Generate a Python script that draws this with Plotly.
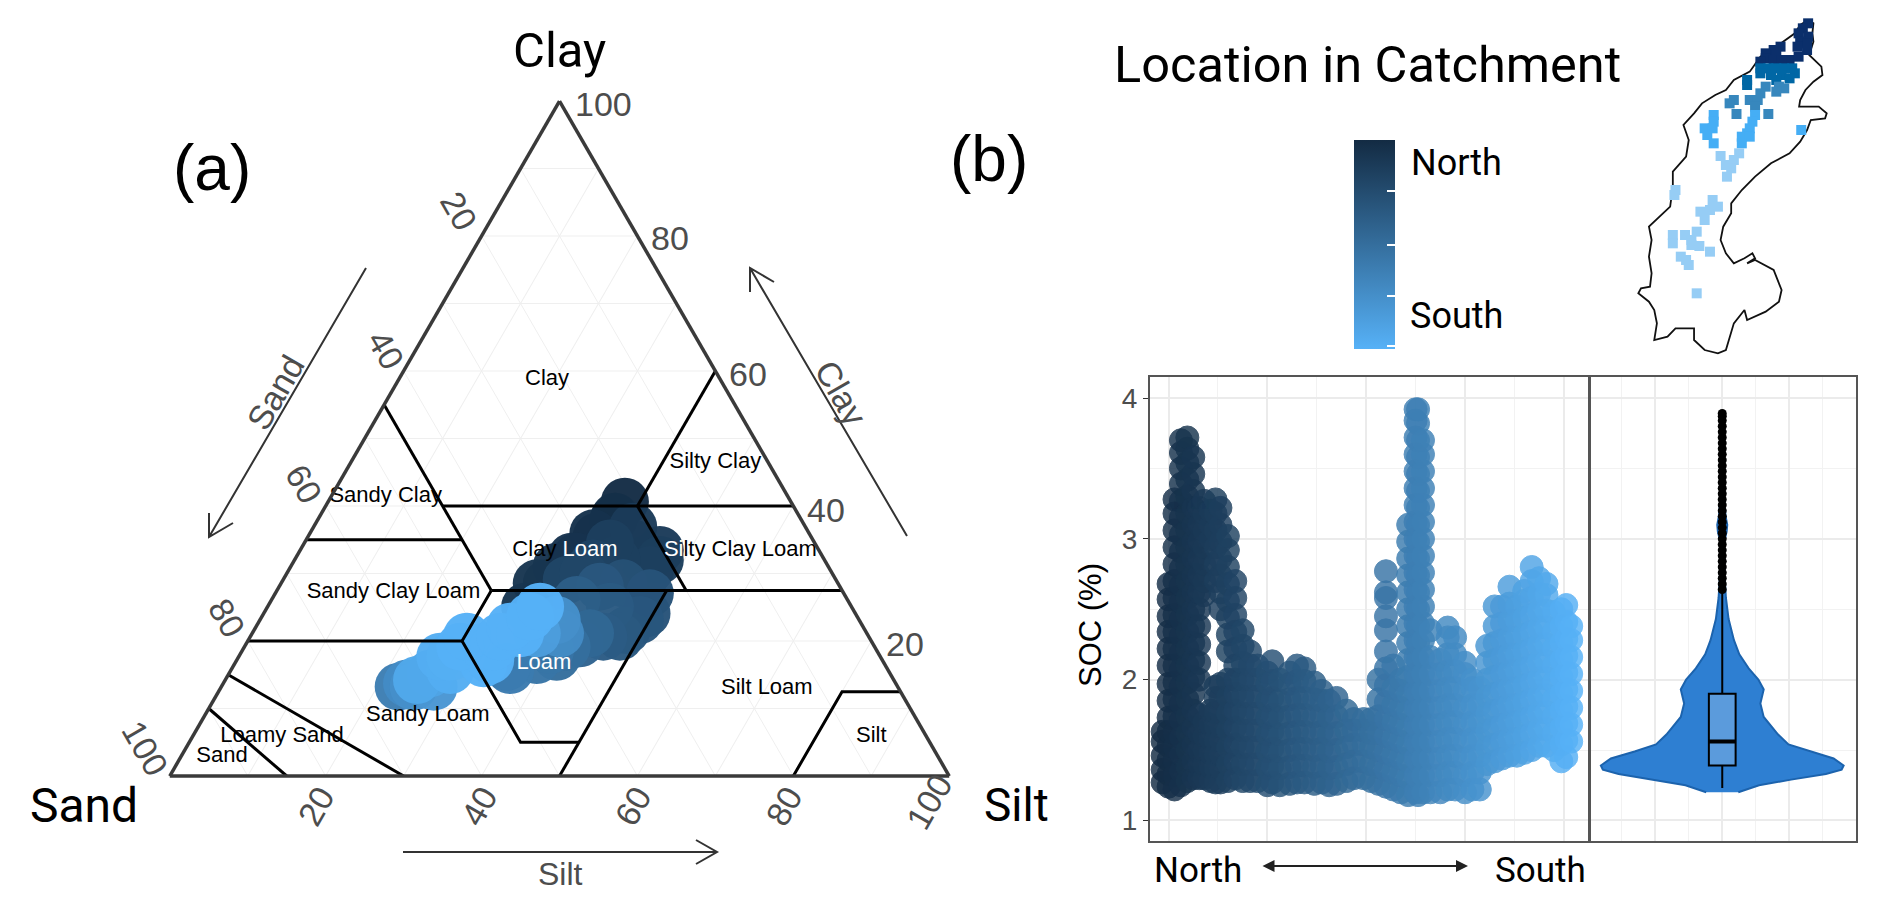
import plotly.graph_objects as go

W, H = 1892, 914
M = 8  # the page keeps an 8 px body margin
FW, FH = W - 2*M, H - 2*M
def X(p): return (p - M) / FW
def Y(p): return 1 - (p - M) / FH

DARK, LIGHT = "#132B43", "#56B1F7"
GREY = "#4d4d4d"

# ---------- Panel (a): soil texture triangle ----------
blob_clay = [40.64,37.92,35.45,32.49,31.01,28.54,34.46,33.48,30.51,32.0,30.02,24.09,21.62,25.08,28.54,28.05,26.07,21.13,19.16,18.66,15.7,21.13,21.13,25.08,23.6,22.12,19.16,16.69,20.64,19.16,17.67,15.2,13.72,13.23,
             38.42,35.95,32.49,28.54,25.08,36.93,32,32,29.03,34.46,31.5,29.03,27.06,23.11,20.64,20.64,19.65,17.67,17.18,16.19,23.11,21.13,20.64,19.16,17.18,17.67,15.7,14.22,13.23,13.23]
blob_silt = [38.07,37.94,37.03,35.96,34.13,32.81,42.23,46.13,46.33,41.32,38.05,49.12,47.79,43.93,43.91,41.16,39.17,43.35,41.34,39.46,35.82,39.5,36.52,34.97,34.43,32.61,31.95,31.91,27.8,27.68,25.87,25.82,23.58,22.75,
             37.9,36.37,35.31,34.09,33.05,40.99,44.74,46.87,46.23,39.24,38.59,36.41,48.06,48.75,47.43,45.3,42.8,40.8,38.49,35.14,38.08,34.38,32.07,30.67,32.52,27.15,28.13,24.61,27.24,24.68]
blob_location = [.01,.02,.05,.06,.07,.08,.10,.12,.15,.15,.2,.3,.32,.35,.28,.33,.38,.45,.5,.55,.6,.72,.85,1,1,1,1,1,1,1,.97,.9,.72,.62,
                 .03,.05,.06,.07,.08,.12,.12,.14,.14,.15,.18,.2,.3,.32,.34,.36,.42,.5,.55,.6,.75,1,1,1,1,.98,.97,.93,.8,.75]

boundaries = [  # each line: clay values, silt values
    ([55,27.5],[0,27.5]), ([40,40],[15,60]), ([35,35],[0,20]), ([40,60],[40,40]),
    ([40,27.5],[40,52.5]), ([27.5,27.5],[27.5,72.5]), ([20,20],[0,27.5]),
    ([27.5,20,5,5],[27.5,27.5,42.5,50]), ([27.5,0],[50,50]),
    ([0,12.5,12.5],[80,80,87.5]), ([15,0],[0,30]), ([10,0],[0,15]),
]
class_names = ["Clay","Silty Clay","Sandy Clay","Clay <span style='color:white'>Loam</span>",
               "<span style='color:white'>Si</span>lty Clay Loam","Sandy Clay Loam",
               "<span style='color:white'>Loam</span>","Silt Loam","Sandy Loam","Silt","Loamy Sand","Sand"]
class_clay = [58.8,46.4,41.4,33.4,33.4,27.2,16.6,13,9,5.8,5.8,2.9]
class_silt = [19,46.8,7,34,56.5,15.1,39.7,70.1,28.6,87.1,11.5,5.25]

clay_ticks = ["100","80","60","40","20"]
sand_ticks = ["20","40","60","80","100"]
silt_ticks = ["20","40","60","80","100"]

# ---------- Panel (b): SOC along the catchment ----------
location_steps = [-0.12,0.0,0.12,0.25,0.38,0.5,0.62,0.72,0.85,0.95,1.05,1.2,1.35,1.5,1.65,1.8,2.0,2.1,2.25,2.45,2.6,2.75,2.95,3.1,3.25,3.4,3.6,3.75,3.95,4.1,4.25,4.4,4.55,4.7,4.85,5.0,5.05,5.15,5.3,5.5,5.65,5.8,6.0,6.15,6.3,6.45,6.6,6.75,6.9,7.05,7.2,7.35,7.5,7.65,7.8,7.95,8.05,8.15]
soc_by_location = [
 [1.27,1.36,1.46,1.56,1.63],
 [1.24,1.33,1.43,1.53,1.63,1.73,1.85,1.97,2.1,2.22,2.34,2.45,2.57,2.68],
 [1.22,1.32,1.42,1.52,1.62,1.74,1.86,1.98,2.1,2.22,2.34,2.46,2.58,2.7,2.82,2.94,3.06,3.18,3.28],
 [1.25,1.35,1.47,1.59,1.71,1.83,1.95,2.07,2.19,2.31,2.43,2.55,2.67,2.79,2.91,3.03,3.15,3.27,3.39,3.5,3.61,3.7],
 [1.28,1.38,1.5,1.62,1.74,1.86,1.98,2.1,2.22,2.34,2.46,2.58,2.7,2.82,2.94,3.06,3.18,3.3,3.42,3.54,3.64,3.72],
 [1.3,1.42,1.54,1.66,1.78,1.9,2.02,2.14,2.26,2.38,2.5,2.62,2.74,2.86,2.98,3.1,3.22,3.34,3.46,3.58],
 [1.3,1.4,1.5,1.62,1.75,2.0,2.12,2.25,2.38,2.5,2.62,2.74,2.86,2.98,3.1,3.22],
 [1.3,1.4,1.5,1.6,1.7,2.6,2.7,2.82,2.94,3.06,3.18,3.27],
 [1.28,1.38,1.48,1.58,1.68,1.78,3.0,3.1,3.2],
 [1.27,1.37,1.47,1.57,1.67,1.77,1.87,1.95,2.7,2.82,2.94,3.06,3.18,3.28],
 [1.27,1.37,1.47,1.57,1.67,1.77,1.87,1.97,2.5,2.62,2.74,2.86,2.98,3.1,3.22],
 [1.28,1.4,1.52,1.64,1.76,1.88,2.0,2.2,2.32,2.44,2.56,2.68,2.8,2.92,3.02],
 [1.3,1.42,1.54,1.66,1.78,1.9,2.0,2.1,2.22,2.34,2.46,2.58,2.7],
 [1.28,1.4,1.52,1.64,1.76,1.88,2.0,2.12,2.24,2.35],
 [1.28,1.4,1.52,1.64,1.76,1.88,2.0,2.1,2.2],
 [1.28,1.4,1.52,1.64,1.76,1.88,2.0,2.1],
 [1.25,1.37,1.49,1.61,1.73,1.85,1.97,2.05],
 [1.27,1.39,1.51,1.63,1.75,1.87,1.99,2.13],
 [1.25,1.37,1.49,1.61,1.73,1.85,2.0],
 [1.26,1.38,1.5,1.62,1.74,1.86,1.97,2.05],
 [1.27,1.39,1.51,1.63,1.75,1.87,1.99,2.1],
 [1.27,1.39,1.51,1.63,1.75,1.87,1.99,2.08],
 [1.26,1.38,1.5,1.62,1.74,1.86,1.98],
 [1.27,1.39,1.51,1.63,1.75,1.85,1.92],
 [1.25,1.37,1.49,1.61,1.73,1.85],
 [1.26,1.38,1.5,1.62,1.74,1.87],
 [1.28,1.4,1.52,1.64,1.78],
 [1.3,1.42,1.54,1.64,1.72],
 [1.3,1.42,1.54,1.64,1.72],
 [1.28,1.4,1.52,1.62,1.72],
 [1.26,1.38,1.5,1.62,1.74,1.86,2.0],
 [1.24,1.36,1.48,1.6,1.72,1.84,1.96,2.08,2.2,2.35,2.45,2.58,2.62,2.77],
 [1.22,1.34,1.46,1.58,1.7,1.82,1.94,2.1],
 [1.2,1.32,1.44,1.56,1.68,1.8,1.92,2.0],
 [1.18,1.3,1.42,1.54,1.66,1.78,1.9,2.02,2.14,2.26,2.38,2.5,2.62,2.74,2.86,2.98,3.1],
 [1.2,1.32,1.44,1.56,1.68,1.8,1.92,2.04,2.16,2.28,2.4,2.52,2.64,2.76,2.88,3.0,3.12,3.24,3.36,3.48,3.6,3.72,3.84,3.92],
 [1.18,1.3,1.42,1.54,1.66,1.78,1.9,2.02,2.14,2.26,2.38,2.5,2.62,2.74,2.86,2.98,3.1,3.22,3.34,3.46,3.58,3.7,3.82,3.92],
 [1.2,1.32,1.44,1.56,1.68,1.8,1.92,2.04,2.16,2.28,2.4,2.52,2.64,2.76,2.88,3.0,3.12,3.24,3.36,3.48,3.6,3.7],
 [1.2,1.32,1.44,1.56,1.68,1.8,1.92,2.04,2.16,2.35],
 [1.2,1.32,1.44,1.56,1.68,1.8,1.92,2.04,2.14],
 [1.22,1.34,1.46,1.58,1.7,1.82,1.94,2.06,2.18,2.3,2.37],
 [1.22,1.34,1.46,1.58,1.7,1.82,1.94,2.06,2.18,2.3],
 [1.2,1.32,1.44,1.56,1.68,1.8,1.92,2.04,2.12],
 [1.22,1.34,1.46,1.58,1.7,1.82,1.94,2.0],
 [1.22,1.34,1.46,1.58,1.7,1.82,1.94],
 [1.4,1.52,1.64,1.76,1.88,2.0,2.12,2.24],
 [1.42,1.54,1.66,1.78,1.9,2.02,2.14,2.26,2.38,2.52],
 [1.44,1.56,1.68,1.8,1.92,2.04,2.16,2.28,2.4,2.52],
 [1.46,1.58,1.7,1.82,1.94,2.06,2.18,2.3,2.42,2.54,2.66],
 [1.46,1.58,1.7,1.82,1.94,2.06,2.18,2.3,2.42,2.52],
 [1.48,1.6,1.72,1.84,1.96,2.08,2.2,2.32,2.44,2.56,2.63],
 [1.5,1.62,1.74,1.86,1.98,2.1,2.22,2.34,2.46,2.58,2.7,2.8],
 [1.53,1.65,1.77,1.89,2.01,2.13,2.25,2.37,2.49,2.61,2.72],
 [1.53,1.65,1.77,1.89,2.01,2.13,2.25,2.37,2.49,2.6,2.68],
 [1.5,1.62,1.74,1.86,1.98,2.1,2.22,2.34,2.48],
 [1.42,1.54,1.66,1.78,1.9,2.02,2.14,2.26,2.38,2.5],
 [1.45,1.57,1.69,1.81,1.93,2.05,2.17,2.29,2.41,2.53],
 [1.56,1.68,1.8,1.92,2.04,2.16,2.28,2.38],
]

violin_soc =   [1.2,1.25,1.29,1.33,1.36,1.39,1.44,1.49,1.54,1.61,1.735,1.83,1.93,2.0,2.08,2.18,2.28,2.43,2.58,2.73,2.97,3.05,3.1,3.16,3.3,3.55,3.89]
violin_half =  [.48,1.1,2.06,3.1,3.57,3.63,3.33,2.62,1.98,1.67,1.24,1.14,1.24,1.08,.79,.51,.35,.19,.11,.07,.05,.13,.15,.1,.05,.03,.02]
outlier_soc = [2.64,2.68,2.72,2.76,2.8,2.84,2.88,2.92,2.96,3.0,3.04,3.08,3.12,3.16,3.2,3.24,3.28,3.32,3.36,3.4,3.44,3.48,3.52,3.56,3.6,3.64,3.68,3.72,3.76,3.8,3.84,3.87,3.89]
box_q1, box_median, box_q3, box_low, box_high = 1.39, 1.56, 1.90, 1.23, 2.63

# ---------- Map inset (values read in inset map units) ----------
outline_e = [1410,1420,1418,1420,1412,1435,1437,1420,1405,1395,1393,1430,1445,1442,1415,1408,1395,1375,1340,1310,1285,1265,1265,1250,1245,1255,1270,1290,1305,1310,1295,1310,1345,1350,1360,1355,1330,1295,1290,1270,1255,1240,1215,1195,1195,1160,1145,1120,1125,1120,1110,1090,1095,1112,1115,1110,1115,1110,1130,1150,1155,1155,1180,1185,1175,1195,1210,1235,1255,1270,1300,1320,1350,1385,1395,1410]
outline_n = [60,70,100,125,165,200,225,245,270,300,320,320,340,355,360,390,425,460,490,530,570,610,640,680,720,760,790,775,760,775,790,780,810,830,870,905,935,960,930,970,1050,1060,1050,1020,985,985,1010,1020,970,930,905,880,865,860,820,770,720,680,650,620,560,515,470,420,375,340,310,285,270,240,215,170,140,100,75,60]
map_groups = {
 "#0b2f6b": ([1410,1400,1392,1410,1395,1408,1390,1408,1358,1345,1330,1350,1330,1320,1345,1375,1392,1360],
             [70,85,100,110,125,130,140,150,140,150,160,165,175,185,180,180,170,180]),
 "#0067a5": ([1320,1335,1350,1365,1380,1385,1320,1340,1360,1375,1295,1295,1350],
             [205,205,205,205,205,220,220,225,225,235,240,255,240]),
 "#3787bd": ([1330,1320,1355,1365,1350,1300,1315,1310,1270,1262,1275,1335],
             [260,280,260,265,275,300,300,320,300,310,342,342]),
 "#45aef5": ([1310,1305,1300,1295,1285,1300,1285,1232,1232,1215,1230,1220,1232,1397],
             [345,365,385,400,410,410,430,345,365,385,385,405,430,390]),
 "#96cdf5": ([1245,1280,1270,1255,1265,1257,1160,1158,1230,1240,1225,1207,1215,1200,1155,1155,1178,1190,1190,1205,1225,1170,1180,1185,1200],
             [468,460,480,495,505,530,570,585,600,620,630,635,660,695,705,730,705,720,735,738,755,770,780,795,880]),
}
legend_ticks = [0.013,0.255,0.5,0.754]

fig = go.Figure()

# --- ternary marks, southern locations drawn last
blob = sorted(zip(blob_location, blob_clay, blob_silt))
b_loc = [p[0] for p in blob]
b_clay = [p[1] for p in blob]
b_silt = [p[2] for p in blob]
fig.add_trace(go.Scatterternary(
    a=b_clay, c=b_silt, b=[100-p-q for p,q in zip(b_clay,b_silt)], mode="markers",
    marker=dict(size=48, color=b_loc, cmin=0, cmax=1,
                colorscale=[[0,DARK],[1,LIGHT]], opacity=0.97, line=dict(width=0)),
    showlegend=False, hoverinfo="skip"))
for cl, si in boundaries:
    fig.add_trace(go.Scatterternary(a=cl, c=si, b=[100-p-q for p,q in zip(cl,si)], mode="lines",
        line=dict(color="black", width=3), showlegend=False, hoverinfo="skip"))
fig.add_trace(go.Scatterternary(
    a=class_clay, c=class_silt, b=[100-p-q for p,q in zip(class_clay,class_silt)], mode="text",
    text=class_names, textposition="middle center",
    textfont=dict(family="Liberation Sans", size=22, color="black"),
    showlegend=False, hoverinfo="skip", cliponaxis=False))

# --- SOC scatter
soc_x = [x for x, ys in zip(location_steps, soc_by_location) for _ in ys]
soc_y = [y for ys in soc_by_location for y in ys]
fig.add_trace(go.Scatter(
    x=soc_x, y=soc_y, mode="markers", xaxis="x", yaxis="y",
    marker=dict(size=23, color=soc_x, cmin=-0.15, cmax=8.15, colorscale=[[0,DARK],[1,LIGHT]],
                opacity=0.82, line=dict(width=1, color=soc_x, cmin=-0.15, cmax=8.15,
                                        colorscale=[[0,DARK],[1,LIGHT]])),
    showlegend=False, hoverinfo="skip"))

# --- colour legend (point lies outside the axis range)
fig.add_trace(go.Scatter(
    x=[-50,-50], y=[0,0], mode="markers", xaxis="x", yaxis="y", showlegend=False, hoverinfo="skip",
    marker=dict(color=[0,1], cmin=0, cmax=1, colorscale=[[0,LIGHT],[1,DARK]], size=1, showscale=True,
        colorbar=dict(x=X(1354), xanchor="left", xpad=0, ypad=0, y=Y(244.5), yanchor="middle",
                      len=209, lenmode="pixels", thickness=41, thicknessmode="pixels",
                      outlinewidth=0, tickmode="array", tickvals=legend_ticks, showticklabels=False,
                      ticks="inside", tickcolor="white", ticklen=8, tickwidth=1.5))))

# --- violin and box (box sits on an overlaying axis pair so it draws above the violin)
fig.add_trace(go.Scatter(
    x=violin_half + [-v for v in reversed(violin_half)], y=violin_soc + list(reversed(violin_soc)),
    mode="lines", fill="toself", fillcolor="#2e7fd2", line=dict(color="#1c63ad", width=2),
    xaxis="x2", yaxis="y2", showlegend=False, hoverinfo="skip"))
fig.add_trace(go.Scatter(
    x=[0]*len(outlier_soc), y=outlier_soc, mode="markers", marker=dict(color="black", size=9),
    xaxis="x2", yaxis="y2", showlegend=False, hoverinfo="skip"))
fig.add_trace(go.Box(
    x=[0], q1=[box_q1], median=[box_median], q3=[box_q3], lowerfence=[box_low], upperfence=[box_high],
    orientation="v", width=0.8, whiskerwidth=0, fillcolor="rgba(255,255,255,0.22)", line=dict(color="black", width=2),
    xaxis="x4", yaxis="y4", showlegend=False, hoverinfo="skip", boxpoints=False))
fig.add_trace(go.Scatter(
    x=[-0.4,0.4], y=[box_median,box_median], mode="lines", line=dict(color="black", width=4),
    xaxis="x4", yaxis="y4", showlegend=False, hoverinfo="skip"))

# --- map
fig.add_trace(go.Scatter(x=outline_e, y=outline_n, mode="lines", line=dict(color="#111", width=1.8),
    xaxis="x3", yaxis="y3", showlegend=False, hoverinfo="skip"))
for colour, (me, mn) in map_groups.items():
    fig.add_trace(go.Scatter(x=me, y=mn, mode="markers", marker=dict(symbol="square", size=10, color=colour),
        xaxis="x3", yaxis="y3", showlegend=False, hoverinfo="skip"))

ann = []
def text(t, px, py, size, color="black", font="Roboto", angle=0):
    ann.append(dict(text=t, xref="paper", yref="paper", x=X(px), y=Y(py), xanchor="center", yanchor="middle",
                    showarrow=False, textangle=angle, font=dict(family=font, size=size, color=color)))

LS = "Liberation Sans"
text("Clay", 559, 50, 49); text("Sand", 84, 805, 48); text("Silt", 1016, 805, 46)
text("(a)", 212, 168, 64, font=LS); text("(b)", 989, 159, 64, font=LS)
for t, p in zip(clay_ticks, [(603,104),(670,238),(748,374),(826,510),(905,644)]):
    text(t, p[0], p[1], 34, GREY, LS)
for t, p in zip(sand_ticks, [(459,211),(386,350),(304,484),(227,618),(145,748)]):
    text(t, p[0], p[1], 34, GREY, LS, 60)
for t, p in zip(silt_ticks, [(316,806),(479,806),(633,806),(784,806),(929,802)]):
    text(t, p[0], p[1], 34, GREY, LS, -60)
text("Clay", 841, 393, 34, GREY, LS, 60); text("Sand", 275, 393, 34, GREY, LS, -60); text("Silt", 560, 874, 32, GREY, LS)
text("Location in Catchment", 1367, 64, 50.5)
text("North", 1456, 163, 36); text("South", 1456, 316, 36)
text("North", 1198, 870, 35); text("South", 1540, 870, 35)
text("SOC (%)", 1090, 625, 31, "black", LS, -90)
ann.append(dict(xref="paper", yref="paper", x=X(1468), y=Y(866), ax=-207, ay=0,
                text="", showarrow=True, arrowside="end+start", arrowhead=2, arrowsize=1.2, arrowwidth=2, arrowcolor="#222"))

def arrow_path(x0,y0,x1,y1,h0x,h0y,h1x,h1y):
    return (f"M {X(x0)} {Y(y0)} L {X(x1)} {Y(y1)} M {X(h0x)} {Y(h0y)} L {X(x1)} {Y(y1)} L {X(h1x)} {Y(h1y)}")
shapes = [
  dict(type="path", xref="paper", yref="paper", path=arrow_path(366,268,209,537,209,513,233,523), line=dict(color="#333",width=2)),
  dict(type="path", xref="paper", yref="paper", path=arrow_path(907,536,750,268,750,292,774,282), line=dict(color="#333",width=2)),
  dict(type="path", xref="paper", yref="paper", path=arrow_path(403,852,717,852,696,840,696,864), line=dict(color="#333",width=2)),
]
for v in legend_ticks:
    yy = 349 - 209*v
    shapes.append(dict(type="line", xref="paper", yref="paper", x0=X(1354), x1=X(1362), y0=Y(yy), y1=Y(yy),
                       line=dict(color="white", width=1.5)))

tern_axis = dict(min=0, showticklabels=False, ticks="", showgrid=True, dtick=10, gridcolor="#efefef", gridwidth=1,
                 linecolor="#3a3a3a", linewidth=3.5, title=dict(text=""))
panel = dict(showline=True, mirror=True, linecolor="#555", linewidth=2, showgrid=True, gridcolor="#ebebeb",
             gridwidth=2, zeroline=False)
minor = dict(showgrid=True, gridcolor="#f2f2f2", gridwidth=1)

fig.update_layout(
    width=FW, height=FH, autosize=False, margin=dict(l=0,r=0,t=0,b=0), paper_bgcolor="white", plot_bgcolor="white",
    font=dict(family=LS), annotations=ann, shapes=shapes, showlegend=False,
    ternary=dict(domain=dict(x=[X(169),X(950)], y=[Y(776),Y(101)]), sum=100, bgcolor="white",
                 aaxis=tern_axis, baxis=tern_axis, caxis=tern_axis),
    xaxis=dict(panel, domain=[X(1150),X(1588)], range=[-0.376,8.49], dtick=2, tick0=0, showticklabels=False,
               ticks="", minor=dict(minor, dtick=1, tick0=0), anchor="y"),
    yaxis=dict(panel, domain=[Y(841),Y(376.5)], range=[0.854,4.153], dtick=1, tick0=1, ticks="outside", ticklen=5,
               tickcolor="#333", tickfont=dict(family=LS, size=28, color=GREY),
               minor=dict(minor, dtick=0.5, tick0=1), anchor="x"),
    xaxis2=dict(panel, domain=[X(1590.5),X(1856)], range=[-3.94,4], dtick=2, tick0=0, showticklabels=False,
                ticks="", minor=dict(minor, dtick=1, tick0=0), anchor="y2"),
    yaxis2=dict(panel, domain=[Y(841),Y(376.5)], range=[0.854,4.153], dtick=1, tick0=1, showticklabels=False,
                ticks="", minor=dict(minor, dtick=0.5, tick0=1), anchor="x2"),
    xaxis3=dict(domain=[X(1060),1], range=[0,1553], visible=False, anchor="y3"),
    yaxis3=dict(domain=[Y(370),1], range=[1110,24], visible=False, anchor="x3"),
    xaxis4=dict(overlaying="x2", range=[-3.94,4], visible=False, anchor="y4"),
    yaxis4=dict(overlaying="y2", range=[0.854,4.153], visible=False, anchor="x4"),
)
fig.write_html("out.html")
